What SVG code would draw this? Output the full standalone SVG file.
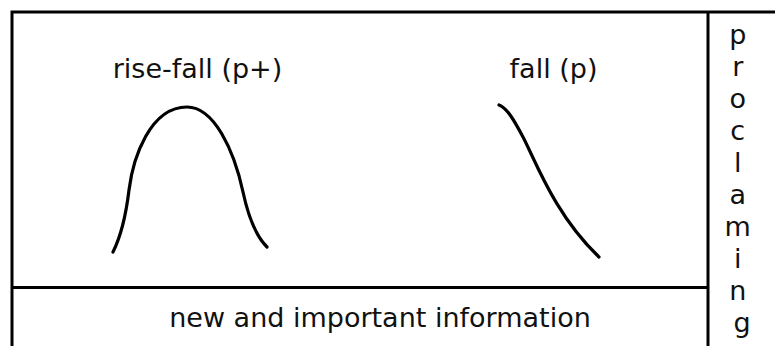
<svg xmlns="http://www.w3.org/2000/svg" width="775" height="346" viewBox="0 0 775 346">
<style>
.ln{stroke:#000;stroke-width:3;fill:none}
.cv{stroke:#000;stroke-width:3.2;fill:none;stroke-linecap:round;stroke-linejoin:round}
.t{font-family:"DejaVu Sans",sans-serif;font-size:27px;fill:#111}
</style>
<rect width="775" height="346" fill="#fff"/>
<g id="frame">
<path class="ln" d="M10.5,12 H775 M12,12 V346 M12,287.5 H708 M708,12 V346"/>
</g>
<g id="rise-fall">
<text class="t" x="197.5" y="78" text-anchor="middle">rise-fall (p+)</text>
<path class="cv" d="M113,252 C121,236 126,215 129,190 C133,158 150,107 187,107 C214,107 234,150 243,192 C246,206 252,232 267,247"/>
</g>
<g id="fall">
<text class="t" x="553.5" y="78" text-anchor="middle">fall (p)</text>
<path class="cv" d="M499,105 C507,108 514,120 523,137 C536,162 555,215 599,257"/>
</g>
<g id="info">
<text class="t" x="380" y="327" text-anchor="middle">new and important information</text>
</g>
<g id="proclaiming">
<text class="t" text-anchor="middle">
<tspan x="742" y="44">p</tspan>
<tspan x="742" y="76">r</tspan>
<tspan x="742" y="108">o</tspan>
<tspan x="742" y="140">c</tspan>
<tspan x="742" y="172">l</tspan>
<tspan x="742" y="204">a</tspan>
<tspan x="742" y="236">m</tspan>
<tspan x="742" y="268">i</tspan>
<tspan x="742" y="300">n</tspan>
<tspan x="742" y="332">g</tspan>
</text>
</g>
</svg>
